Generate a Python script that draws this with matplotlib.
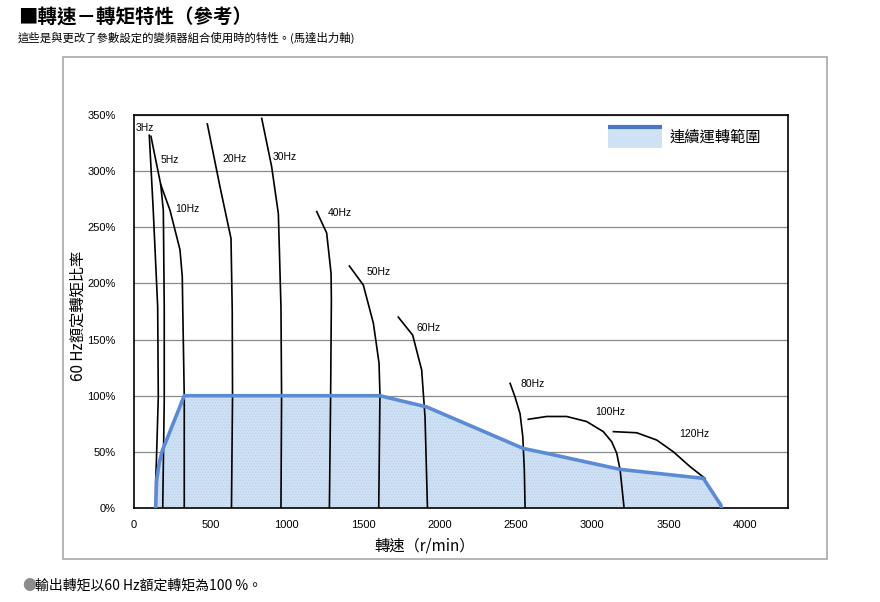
import numpy as np
import matplotlib
matplotlib.use("Agg")
import matplotlib.pyplot as plt
from matplotlib.patches import Rectangle

plt.rcParams['font.family'] = ['Noto Sans CJK TC', 'DejaVu Sans']
plt.rcParams['hatch.linewidth'] = 0.6

# 各頻率的轉速-轉矩曲線 (r/min, %)
hz3_x = [100, 126, 155, 159, 147, 142, 141]
hz3_y = [332, 265, 179, 99, 43, 25, 0]
hz5_x = [111, 175, 192, 198, 198, 188]
hz5_y = [331, 288, 265, 179, 96, 0]
hz10_x = [175, 236, 301, 316, 319, 329, 329]
hz10_y = [288, 265, 230, 206, 179, 99, 0]
hz20_x = [480, 563, 635, 643, 645, 638]
hz20_y = [342, 286, 240, 176, 99, 0]
hz30_x = [836, 901, 945, 962, 966, 962]
hz30_y = [347, 304, 262, 179, 99, 0]
hz40_x = [1196, 1261, 1290, 1292, 1287, 1279]
hz40_y = [264, 245, 209, 185, 99, 0]
hz50_x = [1410, 1501, 1567, 1604, 1610, 1602]
hz50_y = [215.5, 198.6, 164.5, 129, 101, 0]
hz60_x = [1730, 1824, 1883, 1905, 1921]
hz60_y = [170, 154, 123, 81, 0]
hz80_x = [2462, 2494, 2527, 2545, 2555, 2560]
hz80_y = [111, 99, 84, 63.5, 34, 0]
hz100_x = [2581, 2701, 2832, 2963, 3072, 3127, 3160, 3182, 3208]
hz100_y = [79, 81.5, 81.5, 77, 68, 59, 48.7, 34, 0]
hz120_x = [3138, 3291, 3422, 3531, 3640, 3738]
hz120_y = [68, 67, 60.5, 50, 36.8, 26.4]

curves = [(hz3_x, hz3_y), (hz5_x, hz5_y), (hz10_x, hz10_y), (hz20_x, hz20_y),
          (hz30_x, hz30_y), (hz40_x, hz40_y), (hz50_x, hz50_y), (hz60_x, hz60_y),
          (hz80_x, hz80_y), (hz100_x, hz100_y), (hz120_x, hz120_y)]

labels = ['3Hz', '5Hz', '10Hz', '20Hz', '30Hz', '40Hz', '50Hz', '60Hz', '80Hz', '100Hz', '120Hz']
label_x = [13, 177, 268, 576, 910, 1270, 1525, 1846, 2527, 3018, 3568]
label_y = [338, 310, 266, 311, 313, 263, 210, 160, 110, 85.5, 66]

# 連續運轉範圍
cont_x = [142, 148, 165, 185, 329, 1610, 1916, 2549, 2701, 3182, 3727, 3841, 3845]
cont_y = [0, 25, 40, 51, 100, 100, 90, 53, 48.7, 34.4, 26.4, 2.7, 0]

xticks = [0, 500, 1000, 1500, 2000, 2500, 3000, 3500, 4000]
yticks = [0, 50, 100, 150, 200, 250, 300, 350]

fig = plt.figure(figsize=(8.8, 6.02), dpi=100)
ax = fig.add_axes([134/880, 94/602, 654/880, 393/602])

# 外框
fig.patches.append(Rectangle((63/880, 43/602), 764/880, 502/602, transform=fig.transFigure,
                             fill=False, edgecolor='#a8a8a8', linewidth=1.2))

ax.fill_between(cont_x, cont_y, 0, facecolor='#cfe1f4', edgecolor='#b9d0ea',
                hatch='......', linewidth=0, zorder=1)
for cx, cy in curves:
    ax.plot(cx, cy, color='black', linewidth=1.2, zorder=2)
ax.plot(cont_x, cont_y, color='#5b8bd5', linewidth=2.6, zorder=3, solid_joinstyle='miter')

for t, lx, ly in zip(labels, label_x, label_y):
    ax.text(lx, ly, t, fontsize=7.5, family=['Liberation Sans', 'DejaVu Sans'],
            va='center', ha='left', zorder=4)

ax.set_xlim(0, 4281)
ax.set_ylim(0, 350)
ax.set_xticks(xticks)
ax.set_yticks(yticks)
ax.set_yticklabels([f'{v}%' for v in yticks])
for lab in ax.get_xticklabels() + ax.get_yticklabels():
    lab.set_family(['Liberation Sans', 'DejaVu Sans'])
    lab.set_fontsize(8)
ax.tick_params(axis='both', length=0)
ax.tick_params(axis='y', pad=13)
ax.tick_params(axis='x', pad=9)
ax.grid(axis='y', color='#8a8a8a', linewidth=0.9, zorder=0)
ax.set_axisbelow(True)
for s in ax.spines.values():
    s.set_linewidth(1.2)
    s.set_color('black')

ax.set_xlabel('轉速（r/min）', fontsize=11)
ax.xaxis.set_label_coords(0.445, -0.075)
ax.set_ylabel('60 Hz額定轉矩比率', fontsize=11)
ax.yaxis.set_label_coords(-0.073, 0.49)

# 圖例
ax.add_patch(Rectangle((0.7248, 0.916), 0.0825, 0.052, transform=ax.transAxes,
                       facecolor='#cfe1f4', edgecolor='none', zorder=5))
ax.plot([0.7248, 0.8073], [0.9695, 0.9695], transform=ax.transAxes,
        color='#4a78c8', linewidth=3, solid_capstyle='butt', zorder=6)
ax.text(0.8196, 0.944, '連續運轉範圍', transform=ax.transAxes, fontsize=11,
        va='center', ha='left', zorder=6)

fig.text(18/880, 1 - 18/602, '■轉速－轉矩特性（參考）', fontsize=14, fontweight='bold',
         va='center', ha='left')
fig.text(18/880, 1 - 38/602, '這些是與更改了參數設定的變頻器組合使用時的特性。(馬達出力軸)',
         fontsize=8.2, va='center', ha='left')
fig.text(22/880, 1 - 586/602, '●', fontsize=10, color='#8c8c8c', va='center', ha='left')
fig.text(35/880, 1 - 586/602, '輸出轉矩以60 Hz額定轉矩為100 %。', fontsize=10,
         va='center', ha='left')

fig.savefig('out.png', dpi=100)
